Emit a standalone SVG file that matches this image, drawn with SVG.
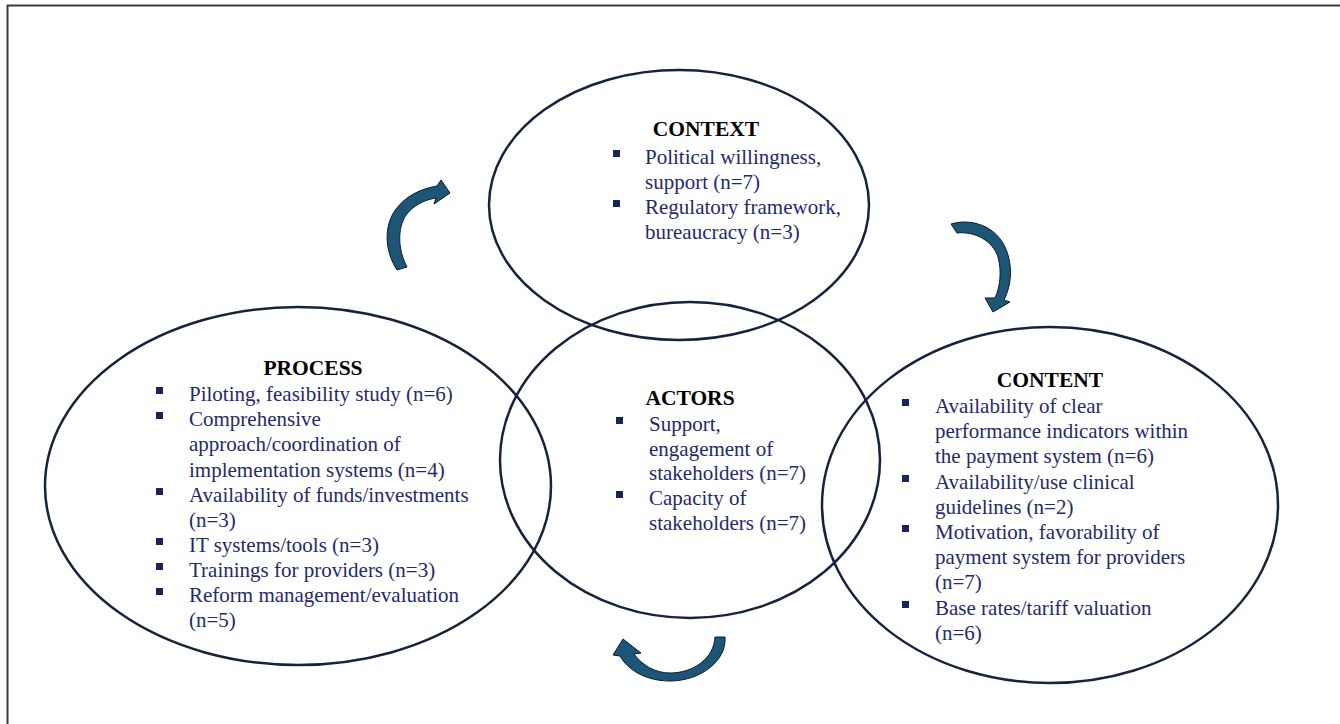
<svg xmlns="http://www.w3.org/2000/svg" width="1340" height="724" viewBox="0 0 1340 724">
  <style>
    .ring { fill: none; stroke: #16233d; stroke-width: 2.5; }
    .head { font-family: "Liberation Serif", "Times New Roman", serif; font-size: 21.5px; font-weight: bold; fill: #000; text-anchor: middle; }
    .body { font-family: "Liberation Serif", "Times New Roman", serif; font-size: 21px; fill: #1f2a6c; }
    .dot { fill: #1a2557; }
    .cycle { fill: #1d5577; stroke: #0e1c2a; stroke-width: 1; stroke-linejoin: round; }
  </style>
  <rect width="1340" height="724" fill="#fff"/>
  <path d="M7.5,724 V5.5 H1340" fill="none" stroke="#3a3a3a" stroke-width="2"/>

  <g id="context">
    <ellipse class="ring" cx="679" cy="205" rx="190" ry="135"/>
    <text class="head" x="706" y="136">CONTEXT</text>
    <rect class="dot" x="613" y="150" width="7" height="7"/>
    <rect class="dot" x="613" y="200" width="7" height="7"/>
    <text class="body">
      <tspan x="645" y="164">Political willingness,</tspan>
      <tspan x="645" y="189">support (n=7)</tspan>
      <tspan x="645" y="214">Regulatory framework,</tspan>
      <tspan x="645" y="239">bureaucracy (n=3)</tspan>
    </text>
  </g>

  <g id="process">
    <ellipse class="ring" cx="298" cy="486" rx="253" ry="179"/>
    <text class="head" x="313" y="375">PROCESS</text>
    <rect class="dot" x="156" y="387" width="7" height="7"/>
    <rect class="dot" x="156" y="412" width="7" height="7"/>
    <rect class="dot" x="156" y="488" width="7" height="7"/>
    <rect class="dot" x="156" y="538" width="7" height="7"/>
    <rect class="dot" x="156" y="563" width="7" height="7"/>
    <rect class="dot" x="156" y="588" width="7" height="7"/>
    <text class="body">
      <tspan x="189" y="401">Piloting, feasibility study (n=6)</tspan>
      <tspan x="189" y="426">Comprehensive</tspan>
      <tspan x="189" y="451">approach/coordination of</tspan>
      <tspan x="189" y="477">implementation systems (n=4)</tspan>
      <tspan x="189" y="502">Availability of funds/investments</tspan>
      <tspan x="189" y="527">(n=3)</tspan>
      <tspan x="189" y="552">IT systems/tools (n=3)</tspan>
      <tspan x="189" y="577">Trainings for providers (n=3)</tspan>
      <tspan x="189" y="602">Reform management/evaluation</tspan>
      <tspan x="189" y="627">(n=5)</tspan>
    </text>
  </g>

  <g id="actors">
    <ellipse class="ring" cx="690" cy="460" rx="190" ry="158"/>
    <text class="head" x="690" y="405">ACTORS</text>
    <rect class="dot" x="616" y="417" width="7" height="7"/>
    <rect class="dot" x="616" y="491" width="7" height="7"/>
    <text class="body">
      <tspan x="649" y="431">Support,</tspan>
      <tspan x="649" y="456">engagement of</tspan>
      <tspan x="649" y="480">stakeholders (n=7)</tspan>
      <tspan x="649" y="505">Capacity of</tspan>
      <tspan x="649" y="530">stakeholders (n=7)</tspan>
    </text>
  </g>

  <g id="content">
    <ellipse class="ring" cx="1050" cy="505" rx="228" ry="178"/>
    <text class="head" x="1050" y="387">CONTENT</text>
    <rect class="dot" x="902" y="399" width="7" height="7"/>
    <rect class="dot" x="902" y="475" width="7" height="7"/>
    <rect class="dot" x="902" y="525" width="7" height="7"/>
    <rect class="dot" x="902" y="601" width="7" height="7"/>
    <text class="body">
      <tspan x="935" y="413">Availability of clear</tspan>
      <tspan x="935" y="438">performance indicators within</tspan>
      <tspan x="935" y="463">the payment system (n=6)</tspan>
      <tspan x="935" y="489">Availability/use clinical</tspan>
      <tspan x="935" y="514">guidelines (n=2)</tspan>
      <tspan x="935" y="539">Motivation, favorability of</tspan>
      <tspan x="935" y="564">payment system for providers</tspan>
      <tspan x="935" y="589">(n=7)</tspan>
      <tspan x="935" y="615">Base rates/tariff valuation</tspan>
      <tspan x="935" y="640">(n=6)</tspan>
    </text>
  </g>

  <!-- curved cycle arrows between the circles -->
  <g id="connectors">
    <path class="cycle" d="M397,270 C384,250 384,225 396,209 C406,196 420,189 437,186 L441,180 L450,193 L434,204 L436,198 C423,200 413,206 406,215 C397,229 398,250 407,267 Z"/>
    <path class="cycle" d="M951,224 C975,217 1001,229 1008,255 C1013,272 1010,288 1004,300 L1010,302 L993,312 L985,298 L995,298 C1000,287 1002,272 998,257 C993,241 975,231 957,233 Z"/>
    <path class="cycle" d="M725,637 C727,661 700,681 670,681 C645,681 627,669 620,656 L613,655 L623,639 L641,653 L634,654 C642,665 655,673 670,673 C694,673 714,658 715,637 Z"/>
  </g>
</svg>
